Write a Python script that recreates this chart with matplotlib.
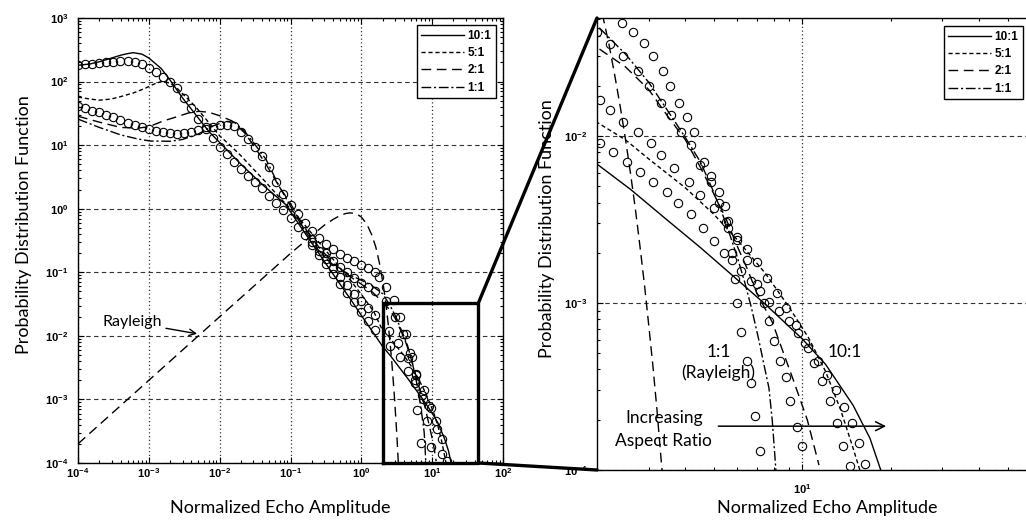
import numpy as np
import matplotlib
matplotlib.use("Agg")
import matplotlib.pyplot as plt
from matplotlib.patches import ConnectionPatch
from matplotlib.ticker import LogLocator, NullFormatter

plt.rcParams["font.family"] = ["Liberation Sans", "DejaVu Sans"]
plt.rcParams["mathtext.default"] = "regular"

# ---- model curves (normalized echo amplitude vs pdf) ----
line10_x = [1e-4, 1.5e-4, 2e-4, 3e-4, 4e-4, 5e-4, 6e-4, 8e-4, 1e-3, 1.5e-3,
            2e-3, 3e-3, 4.5e-3, 7e-3, 1e-2, 2e-2, 4e-2, 8.5e-2, 0.15, 0.25,
            0.43, 0.7, 1.0, 1.5, 2.0, 2.6, 3.5, 4.5, 5.9, 7.5,
            10, 12, 14.9, 17, 18.5]
line10_y = [180, 190, 205, 235, 260, 275, 285, 270, 235, 160,
            105, 55, 31, 16.5, 11, 5.0, 2.4, 1.17, 0.46, 0.2,
            0.083, 0.038, 0.021, 0.0109, 6.8e-3, 4.8e-3, 3.1e-3, 2.15e-3, 1.42e-3, 9.8e-4,
            6.1e-4, 4.3e-4, 2.44e-4, 1.55e-4, 1e-4]

line5_x = [1e-4, 1.5e-4, 2e-4, 2.9e-4, 4e-4, 6e-4, 8.8e-4, 1.2e-3, 1.5e-3, 2e-3,
           2.6e-3, 3.3e-3, 4.5e-3, 6e-3, 8e-3, 1e-2, 1.4e-2, 2e-2, 3e-2, 4.5e-2,
           7e-2, 0.1, 0.15, 0.25, 0.4, 0.7, 1.0, 1.5, 2.0, 2.5,
           3.0, 4.0, 5.0, 6.0, 7.5, 9.0, 10.5, 12.0, 13.5, 14.8, 15.7]
line5_y = [57, 53, 51, 53, 58, 66, 78, 92, 100, 95,
           75, 58, 41, 28, 19, 14, 10, 6.8, 4.2, 2.6,
           1.5, 1.0, 0.6, 0.3, 0.16, 0.075, 0.045, 0.024, 0.0121, 0.0095,
           7.3e-3, 4.9e-3, 3.4e-3, 2.4e-3, 1.5e-3, 9.5e-4, 6.2e-4, 3.9e-4, 2.3e-4, 1.4e-4, 1e-4]

line2_x = [1e-4, 2e-4, 4e-4, 7e-4, 1e-3, 1.6e-3, 2.5e-3, 3.6e-3, 5e-3, 7e-3,
           1e-2, 1.5e-2, 2.2e-2, 3e-2, 4.5e-2, 7e-2, 0.1, 0.15, 0.25, 0.4,
           0.7, 1.0, 1.4, 2.0, 2.5, 3.0, 3.5, 4.0, 4.5, 5.0,
           5.5, 6.0, 6.5, 7.0, 7.9, 9.3, 10.4, 11.4]
line2_y = [28.5, 23, 19, 18.5, 19.5, 24, 28, 32, 34, 33,
           29, 24, 16, 10, 5, 2.2, 1.2, 0.55, 0.25, 0.14,
           0.085, 0.065, 0.05, 0.034, 0.026, 0.019, 0.013, 9.5e-3, 6.5e-3, 4.5e-3,
           3.2e-3, 2.2e-3, 1.6e-3, 1.15e-3, 7.7e-4, 3.5e-4, 2.0e-4, 1.07e-4]

line1_x = [1e-4, 2e-4, 4e-4, 7e-4, 1.05e-3, 2e-3, 3e-3, 5e-3, 8e-3, 1.2e-2,
           1.6e-2, 2.2e-2, 3e-2, 4.5e-2, 7e-2, 0.1, 0.15, 0.25, 0.4, 0.7,
           1.0, 1.4, 2.0, 2.5, 3.0, 3.5, 4.0, 4.5, 5.0, 5.5,
           6.0, 6.37, 6.7, 7.1, 7.4, 7.7, 7.9, 8.1, 8.2]
line1_y = [25.7, 19, 14.5, 12.5, 11.6, 11.5, 12.3, 15, 20, 23.5,
           23, 17, 11, 6, 2.2, 1.1, 0.5, 0.22, 0.13, 0.09,
           0.075, 0.062, 0.046, 0.031, 0.021, 0.014, 9.8e-3, 7e-3, 4.6e-3, 3e-3,
           1.9e-3, 1.33e-3, 9.5e-4, 6.1e-4, 4.3e-4, 3.1e-4, 2.0e-4, 1.1e-4, 8e-5]

rayleigh_x = [1e-4, 1e-3, 1e-2, 0.1, 0.2, 0.3, 0.4, 0.5, 0.6, 0.7, 0.8, 0.9, 1.0,
              1.2, 1.4, 1.6, 1.8, 2.0, 2.1, 2.2, 2.3, 2.4, 2.5, 2.6, 2.7, 2.8,
              2.9, 3.0, 3.1, 3.2, 3.3, 3.4]
rayleigh_y = [2e-4, 2e-3, 2e-2, 0.198, 0.38, 0.55, 0.68, 0.78, 0.84, 0.86, 0.84, 0.80, 0.74,
              0.57, 0.39, 0.25, 0.14, 0.073, 0.051, 0.035, 0.023, 0.015, 9.6e-3, 6.0e-3, 3.7e-3, 2.2e-3,
              1.3e-3, 7.4e-4, 4.2e-4, 2.3e-4, 1.2e-4, 6.7e-5]

# ---- simulated samples (circles) ----
low_grid = [1.00e-4, 1.26e-4, 1.58e-4, 2.00e-4, 2.51e-4, 3.16e-4, 3.98e-4, 5.01e-4, 6.31e-4, 7.94e-4,
            1.00e-3, 1.26e-3, 1.58e-3, 2.00e-3, 2.51e-3, 3.16e-3, 3.98e-3, 5.01e-3, 6.31e-3, 7.94e-3,
            1.00e-2, 1.26e-2, 1.58e-2, 2.00e-2, 2.51e-2, 3.16e-2, 3.98e-2, 5.01e-2, 6.31e-2, 7.94e-2,
            0.100, 0.126, 0.158, 0.200, 0.251, 0.316, 0.398, 0.501, 0.631, 0.794,
            1.00, 1.26, 1.58]

circ10_x = low_grid + [2.05, 2.27, 2.53, 2.81, 3.10, 3.47, 3.77, 4.18, 4.60, 5.00,
                       5.40, 5.75, 6.20, 6.70, 7.20, 7.70, 8.30, 9.00, 9.70, 10.5,
                       11.3, 12.1, 13.0, 13.9, 14.8, 15.6, 16.4]
circ10_y = [185, 190, 192, 195, 200, 205, 210, 212, 205, 190,
            165, 141, 118, 97, 78, 55, 38, 26, 19, 13,
            9.5, 7.2, 5.4, 4.2, 3.3, 2.6, 2.1, 1.6, 1.25, 0.95,
            0.72, 0.52, 0.38, 0.27, 0.19, 0.135, 0.095, 0.066, 0.047, 0.034,
            0.024, 0.017, 0.0125,
            9.1e-3, 8.0e-3, 7.0e-3, 6.1e-3, 5.3e-3, 4.64e-3, 4.0e-3, 3.4e-3, 2.8e-3, 2.34e-3,
            2.0e-3, 1.8e-3, 1.55e-3, 1.35e-3, 1.18e-3, 1.02e-3, 9.0e-4, 7.8e-4, 6.6e-4, 5.4e-4,
            4.5e-4, 3.7e-4, 3.0e-4, 2.4e-4, 1.9e-4, 1.45e-4, 1.08e-4]

circ5_x = [0.200, 0.251, 0.316, 0.398, 0.501, 0.631, 0.794, 1.00, 1.26, 1.58,
           2.05, 2.22, 2.45, 2.75, 3.05, 3.30, 3.65, 4.10, 4.50, 5.00,
           5.50, 6.00, 6.50, 7.00, 7.60, 8.20, 8.80, 9.50, 10.2, 11.0,
           11.7, 12.4, 13.1, 13.8, 14.5]
circ5_y = [0.30, 0.22, 0.16, 0.115, 0.085, 0.062, 0.046, 0.035, 0.027, 0.021,
           0.0164, 0.0143, 0.0121, 0.0106, 9.1e-3, 7.7e-3, 6.45e-3, 5.3e-3, 4.45e-3, 3.7e-3,
           3.05e-3, 2.5e-3, 2.1e-3, 1.75e-3, 1.42e-3, 1.15e-3, 9.3e-4, 7.4e-4, 5.8e-4, 4.4e-4,
           3.4e-4, 2.6e-4, 1.9e-4, 1.4e-4, 1.05e-4]

circ2_x = [0.316, 0.398, 0.501, 0.631, 0.794, 1.00, 1.26, 1.58,
           2.00, 2.22, 2.45, 2.75, 3.00, 3.30, 3.56, 3.86, 4.18, 4.50,
           4.90, 5.20, 5.60, 6.00, 6.50, 7.00, 7.40, 7.70, 8.00, 8.40,
           8.80, 9.10, 9.60, 9.95]
circ2_y = [0.2, 0.15, 0.12, 0.1, 0.082, 0.068, 0.058, 0.05,
           0.042, 0.0358, 0.0303, 0.0247, 0.0201, 0.0159, 0.0133, 0.0106, 8.8e-3, 6.7e-3,
           5.3e-3, 4.0e-3, 3.1e-3, 2.4e-3, 1.8e-3, 1.3e-3, 1.0e-3, 7.8e-4, 5.9e-4, 4.5e-4,
           3.6e-4, 2.6e-4, 1.8e-4, 1.4e-4]

circ1_x = low_grid + [1.80, 2.00, 2.20, 2.44, 2.65, 2.88, 3.10, 3.35, 3.55, 3.80,
                      4.05, 4.29, 4.64, 4.90, 5.19, 5.44, 5.60, 5.75, 5.90, 5.98,
                      6.20, 6.50, 6.70, 6.90, 7.20]
circ1_y = [41, 38, 35, 33, 30, 27.5, 25, 22.5, 20.6, 19,
           17.8, 16.8, 16, 15.4, 15.2, 15.4, 16, 17, 18.2, 19.5,
           20.5, 21, 20, 16, 12.5, 9.5, 6.8, 4.6, 2.6, 1.7,
           1.15, 0.82, 0.6, 0.45, 0.35, 0.28, 0.23, 0.195, 0.17, 0.15,
           0.13, 0.115, 0.1,
           0.085, 0.07, 0.058, 0.0477, 0.042, 0.0363, 0.030, 0.0247, 0.020, 0.0159,
           0.013, 0.0106, 7.0e-3, 5.8e-3, 4.64e-3, 3.8e-3, 2.8e-3, 2.0e-3, 1.39e-3, 1.0e-3,
           6.7e-4, 4.5e-4, 3.3e-4, 2.1e-4, 1.3e-4]

ratio_labels = ["10:1", "5:1", "2:1", "1:1"]
line_styles = ["-", (0, (3, 2)), (0, (7, 4)), (0, (7, 2, 1.5, 2))]
model_lines = [(line10_x, line10_y), (line5_x, line5_y), (line2_x, line2_y), (line1_x, line1_y)]
sample_sets = [(circ10_x, circ10_y), (circ5_x, circ5_y), (circ2_x, circ2_y), (circ1_x, circ1_y)]

# zoomed window shown in the right panel
box_x = [2, 45]
box_y = [1e-4, 0.033]

label_font = "Lato"


def draw_curves(ax, thin_tail=False):
    handles = []
    for (xs, ys), ls, lab in zip(model_lines, line_styles, ratio_labels):
        h, = ax.plot(xs, ys, color="k", lw=1.0, ls=ls, label=lab)
        handles.append(h)
    ax.plot(rayleigh_x, rayleigh_y, color="k", lw=1.0, ls=(0, (7, 4)))
    for xs, ys in sample_sets:
        xs = np.asarray(xs)
        ys = np.asarray(ys)
        if thin_tail:
            # the tail samples are packed tightly; keep every third one on the wide view
            keep = (xs < 1.9) | (np.arange(len(xs)) % 3 == 0)
            xs, ys = xs[keep], ys[keep]
        ax.plot(xs, ys, ls="none", marker="o", ms=6, mfc="none", mec="k", mew=0.8)
    return handles


def style_axes(ax):
    ax.set_xscale("log")
    ax.set_yscale("log")
    ax.set_axisbelow(True)
    ax.tick_params(which="both", direction="in", top=True, right=True, width=0.8, labelsize=8)
    ax.tick_params(which="major", length=4)
    ax.tick_params(which="minor", length=2)
    ax.xaxis.set_minor_locator(LogLocator(base=10, subs=np.arange(2, 10), numticks=30))
    ax.yaxis.set_minor_locator(LogLocator(base=10, subs=np.arange(2, 10), numticks=30))
    ax.xaxis.set_minor_formatter(NullFormatter())
    ax.yaxis.set_minor_formatter(NullFormatter())
    ax.yaxis.grid(True, which="major", ls=(0, (4, 3)), color="0.2", lw=0.8)
    ax.xaxis.grid(True, which="major", ls=(0, (1, 2)), color="0.2", lw=0.9)
    for s in ax.spines.values():
        s.set_linewidth(1.0)


def decade_labels(vals):
    return [r"$10^{%d}$" % int(round(np.log10(v))) for v in vals]


fig = plt.figure(figsize=(10.26, 5.21), dpi=100)
ax1 = fig.add_axes([78 / 1026, 58 / 521, 425 / 1026, 445 / 521])
ax2 = fig.add_axes([597 / 1026, 51 / 521, 444 / 1026, 452 / 521])

# left: full range
h1 = draw_curves(ax1, thin_tail=True)
style_axes(ax1)
ax1.set_xlim(1e-4, 1e2)
ax1.set_ylim(1e-4, 1e3)
xt = [1e-4, 1e-3, 1e-2, 1e-1, 1e0, 1e1, 1e2]
yt = [1e-4, 1e-3, 1e-2, 1e-1, 1e0, 1e1, 1e2, 1e3]
ax1.set_xticks(xt, decade_labels(xt), fontweight="bold")
ax1.set_yticks(yt, decade_labels(yt), fontweight="bold")
ax1.tick_params(axis="x", pad=2)
ax1.tick_params(axis="y", pad=7)
ax1.plot([box_x[0], box_x[1], box_x[1], box_x[0], box_x[0]],
         [box_y[0], box_y[0], box_y[1], box_y[1], box_y[0]],
         color="k", lw=2.4, clip_on=False, zorder=6)
ax1.annotate("Rayleigh", xy=(0.0048, 0.0108), xytext=(2.2e-4, 0.0163),
             ha="left", va="center", fontfamily=label_font, fontsize=11.5,
             arrowprops=dict(arrowstyle="->", color="k", lw=1.0, shrinkA=1, shrinkB=0))
ax1.set_xlabel("Normalized Echo Amplitude", fontfamily=label_font, fontsize=13, va="center")
ax1.set_ylabel("Probability Distribution Function", fontfamily=label_font, fontsize=13, va="center")
ax1.xaxis.set_label_coords(0.475, -0.101)
ax1.yaxis.set_label_coords(-0.128, 0.535)

# right: zoomed tail
h2 = draw_curves(ax2)
style_axes(ax2)
ax2.set_xlim(2, 65)
ax2.set_ylim(1e-4, 0.051)
ax2.set_xticks([10], decade_labels([10]), fontweight="bold")
yt2 = [1e-4, 1e-3, 1e-2]
ax2.set_yticks(yt2, decade_labels(yt2), fontweight="bold")
ax2.tick_params(axis="x", pad=9)
ax2.tick_params(axis="y", pad=7)
ax2.set_xlabel("Normalized Echo Amplitude", fontfamily=label_font, fontsize=13, va="center")
ax2.set_ylabel("Probability Distribution Function", fontfamily=label_font, fontsize=13, va="center")
ax2.xaxis.set_label_coords(0.518, -0.084)
ax2.yaxis.set_label_coords(-0.1126, 0.533)

note = dict(ha="center", va="center", fontfamily=label_font, fontsize=12.5)
ax2.text(5.18, 5.1e-4, "1:1", **note)
ax2.text(5.18, 3.8e-4, "(Rayleigh)", **note)
ax2.text(13.97, 5.1e-4, "10:1", **note)
ax2.text(3.38, 2.04e-4, "Increasing", **note)
ax2.text(3.38, 1.49e-4, "Aspect Ratio", **note)
ax2.annotate("", xy=(19.3, 1.83e-4), xytext=(5.18, 1.83e-4),
             arrowprops=dict(arrowstyle="->", color="k", lw=1.1, mutation_scale=16,
                             shrinkA=0, shrinkB=0))

# legends
leg_kw = dict(loc="upper right", bbox_transform=fig.transFigure, fancybox=False,
              framealpha=1, edgecolor="k", borderaxespad=0, handlelength=3.6,
              handletextpad=0.3, borderpad=0.4, labelspacing=0.45,
              prop=dict(family="Liberation Sans", size=8.5, weight="bold"))
lg1 = ax1.legend(h1, ratio_labels, bbox_to_anchor=(496 / 1026, 1 - 25 / 521), **leg_kw)
lg2 = ax2.legend(h2, ratio_labels, bbox_to_anchor=(1023 / 1026, 1 - 26 / 521), **leg_kw)
for lg in (lg1, lg2):
    lg.get_frame().set_linewidth(1.0)

# thick lines tying the box to the zoomed panel
top_link = ConnectionPatch(xyA=(box_x[1], box_y[1]), coordsA=ax1.transData,
                           xyB=(2, 0.051), coordsB=ax2.transData, color="k", lw=2.4)
bot_link = ConnectionPatch(xyA=(box_x[1], box_y[0]), coordsA=ax1.transData,
                           xyB=(2, 1e-4), coordsB=ax2.transData, color="k", lw=2.4)
fig.add_artist(top_link)
fig.add_artist(bot_link)

fig.savefig("out.png", dpi=100)
